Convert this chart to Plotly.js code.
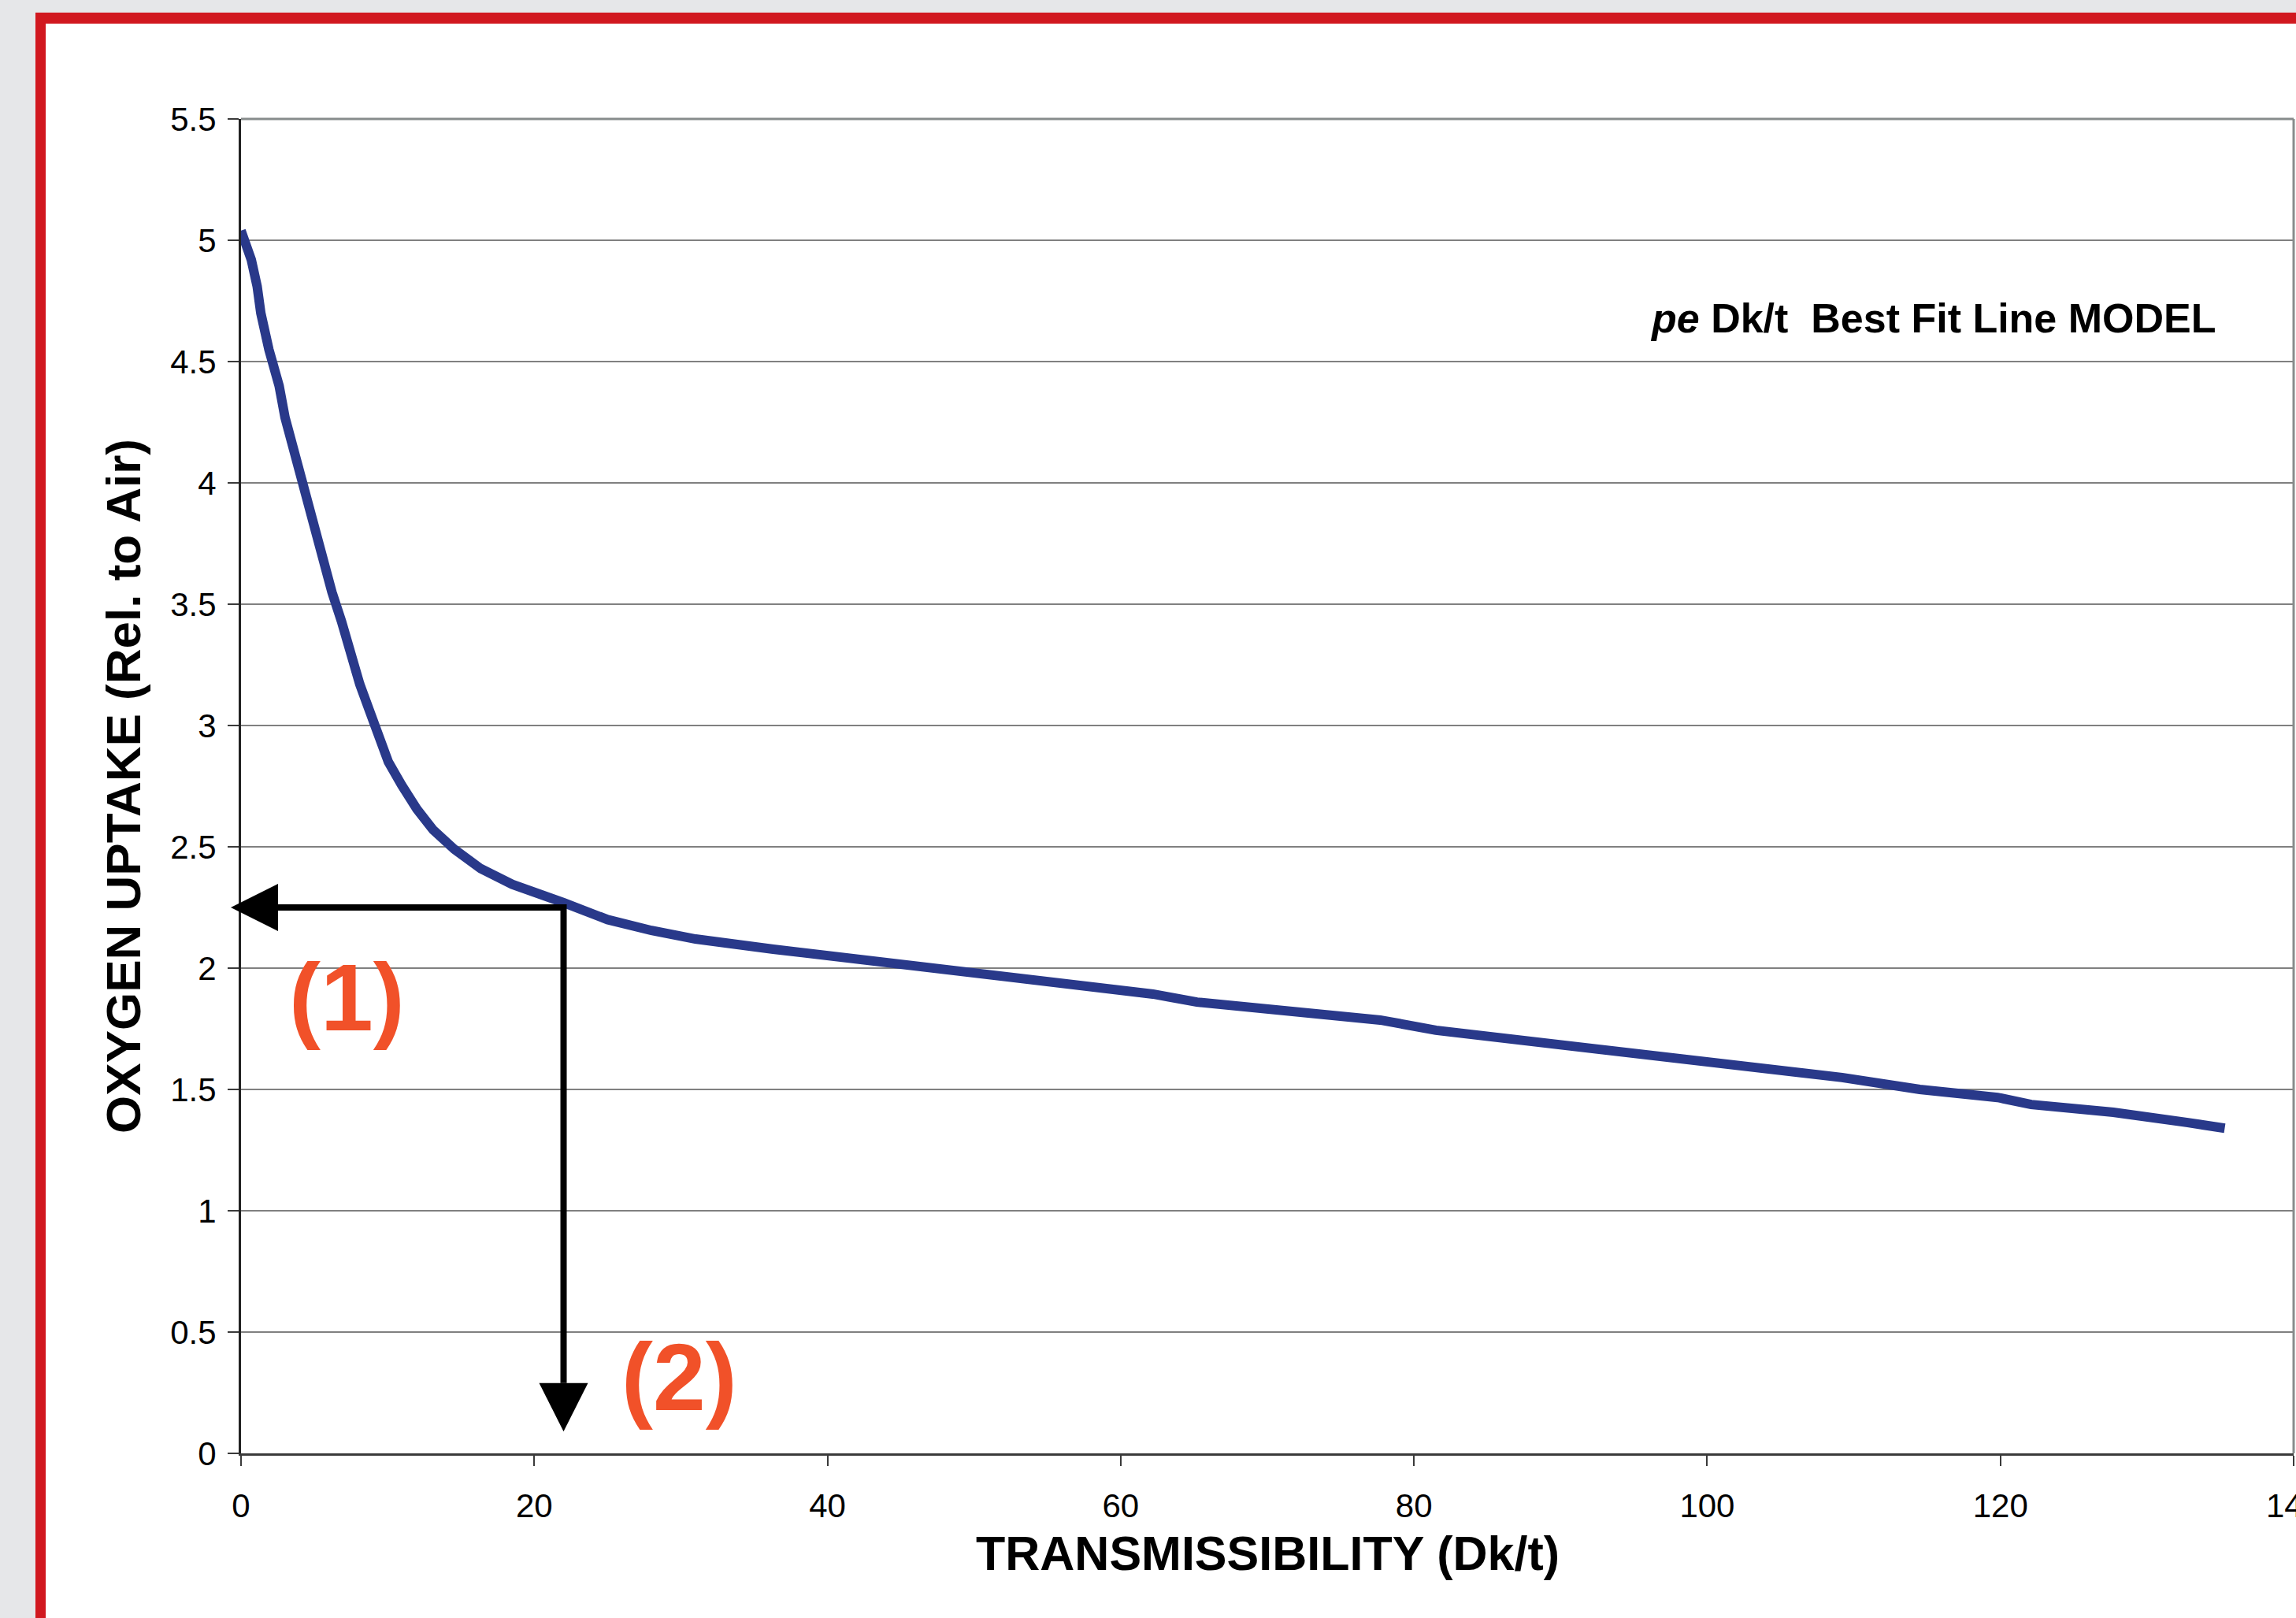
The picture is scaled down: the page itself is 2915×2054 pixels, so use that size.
<!DOCTYPE html>
<html>
<head>
<meta charset="utf-8">
<script src="https://cdn.plot.ly/plotly-3.0.1.min.js"></script>
<style>
  html, body { margin: 0; padding: 0; width: 2915px; height: 2054px; overflow: hidden; background: #e6e7e9; }
  #frame { position: absolute; left: 45px; top: 16px; width: 2900px; height: 2100px;
           border-left: 13px solid #d1181f; border-top: 14px solid #d1181f; background: #ffffff; }
  #chart { position: absolute; left: 0; top: 0; width: 2915px; height: 2054px; }
</style>
</head>
<body>
<div id="frame"></div>
<div id="chart"></div>
<script>
// Transmissibility (Dk/t) values along the best-fit curve
const dkt = [0, 0.7, 1.1, 1.35, 1.9, 2.6, 3.0, 3.6, 4.2, 4.5, 5.1, 5.7, 6.2, 6.85, 7.4, 8.1, 8.8, 9.35,
             10.05, 10.95, 12.0, 13.1, 14.55, 16.35, 18.5, 22.0, 25.0, 28.0, 31.0, 36.3, 43.9, 52.6,
             62.2, 65.2, 77.7, 81.5, 91.7, 102.3, 109.2, 114.5, 119.8, 122.1, 127.7, 132.7, 135.3];
// Oxygen uptake relative to air
const uptake = [5.04, 4.92, 4.81, 4.70, 4.55, 4.40, 4.27, 4.13, 4.00, 3.93, 3.79, 3.65, 3.55, 3.43, 3.30, 3.17, 3.055, 2.97,
                2.85, 2.755, 2.655, 2.57, 2.49, 2.41, 2.345, 2.27, 2.20, 2.155, 2.12, 2.078, 2.023, 1.958,
                1.893, 1.86, 1.786, 1.744, 1.672, 1.60, 1.549, 1.50, 1.467, 1.438, 1.406, 1.364, 1.34];

// Reading example: Dk/t value and its uptake
const readX = 22;
const readY = 2.25;
const arrowEndY = 0.29;   // base of downward arrowhead
const arrowTipY = 0.09;   // tip of downward arrowhead

const xTicks = [0, 20, 40, 60, 80, 100, 120, 140];
const yTicks = [0, 0.5, 1, 1.5, 2, 2.5, 3, 3.5, 4, 4.5, 5, 5.5];

const xTitle = 'TRANSMISSIBILITY (Dk/t)';
const yTitle = 'OXYGEN UPTAKE (Rel. to Air)';
const labelModel = '<b><i>pe</i> Dk/t&nbsp;&nbsp;Best Fit Line MODEL</b>';
const label1 = '(1)';
const label2 = '(2)';

const FONT = 'Liberation Sans, Arial, Helvetica, sans-serif';

const trace = {
  x: dkt, y: uptake, type: 'scatter', mode: 'lines',
  line: { color: '#29398a', width: 12 },
  hoverinfo: 'skip', showlegend: false
};

const layout = {
  width: 2915, height: 2054,
  margin: { l: 306, r: 3, t: 151, b: 209 },
  paper_bgcolor: 'rgba(0,0,0,0)',
  plot_bgcolor: '#ffffff',
  font: { family: FONT, color: '#000000' },
  showlegend: false,
  xaxis: {
    range: [0, 140], tickvals: xTicks, ticktext: xTicks.map(String),
    showgrid: false, zeroline: false,
    showline: true, linecolor: '#3a3a3a', linewidth: 3,
    ticks: 'outside', ticklen: 13, tickwidth: 2, tickcolor: '#3a3a3a',
    tickfont: { size: 42, family: FONT, color: '#000' },
    ticklabelstandoff: 15,
    ticklabeloverflow: 'allow',
    automargin: false
  },
  yaxis: {
    range: [0, 5.5], tickvals: yTicks, ticktext: yTicks.map(String),
    showgrid: true, gridcolor: '#808080', gridwidth: 2, zeroline: false,
    showline: true, linecolor: '#222222', linewidth: 3,
    ticks: 'outside', ticklen: 14, tickwidth: 2, tickcolor: '#3a3a3a',
    tickfont: { size: 42, family: FONT, color: '#000' },
    ticklabelstandoff: 6,
    automargin: false,
    title: { text: yTitle, font: { size: 62, family: FONT, weight: 'bold', color: '#000' }, standoff: 18 }
  },
  shapes: [
    // top and right frame of plot area
    { type: 'line', xref: 'paper', yref: 'paper', x0: 0, x1: 1, y0: 1, y1: 1, line: { color: '#878c8c', width: 3 } },
    { type: 'line', xref: 'paper', yref: 'paper', x0: 1, x1: 1, y0: 0, y1: 1, line: { color: '#878c8c', width: 3 } },
    // reading path: horizontal then down
    { type: 'path', xref: 'x', yref: 'y',
      path: 'M0,' + readY + 'L' + readX + ',' + readY + 'L' + readX + ',' + arrowEndY,
      line: { color: '#000000', width: 8 } },
    // left-pointing arrowhead at y axis
    { type: 'path', xref: 'paper', yref: 'y', xsizemode: 'pixel', ysizemode: 'pixel',
      xanchor: 0, yanchor: readY, path: 'M-13,0L47,30L47,-30Z',
      fillcolor: '#000000', line: { width: 0 } },
    // down-pointing arrowhead
    { type: 'path', xref: 'x', yref: 'y', xsizemode: 'pixel',
      xanchor: readX, path: 'M-31,' + arrowEndY + 'L31,' + arrowEndY + 'L0,' + arrowTipY + 'Z',
      fillcolor: '#000000', line: { width: 0 } }
  ],
  annotations: [
    // x axis title
    { x: 0.5, y: -0.075, xref: 'paper', yref: 'paper', text: '<b>' + xTitle + '</b>', showarrow: false,
      yanchor: 'middle', font: { size: 61, family: FONT, color: '#000' } },
    { x: 115.4, y: 4.68, xref: 'x', yref: 'y', text: labelModel, showarrow: false,
      font: { size: 52, family: FONT, color: '#000' } },
    { x: 7.2, y: 1.88, xref: 'x', yref: 'y', text: '<b>' + label1 + '</b>', showarrow: false,
      font: { size: 120, family: FONT, color: '#f15129' } },
    { x: 29.9, y: 0.315, xref: 'x', yref: 'y', text: '<b>' + label2 + '</b>', showarrow: false,
      font: { size: 120, family: FONT, color: '#f15129' } }
  ]
};

Plotly.newPlot('chart', [trace], layout, { staticPlot: true, displayModeBar: false });
</script>
</body>
</html>
